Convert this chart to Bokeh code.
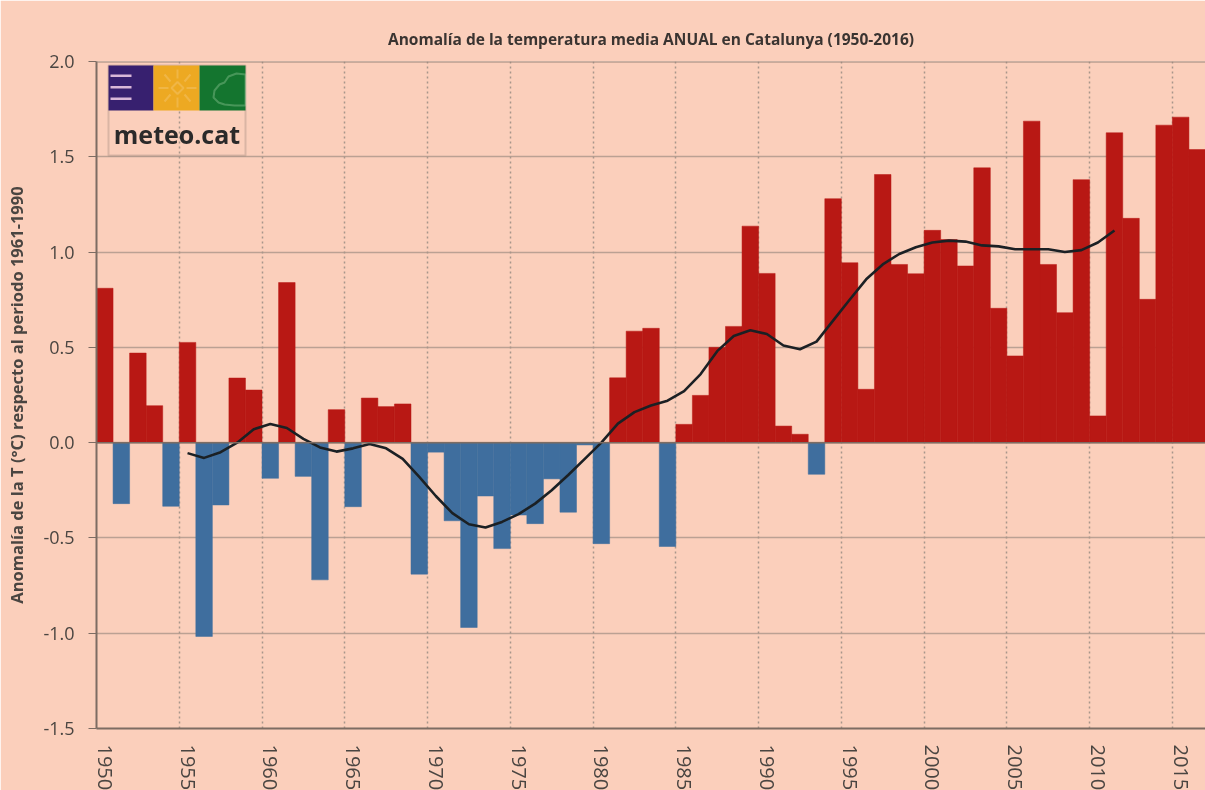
from bokeh.plotting import figure
from bokeh.embed import file_html
from bokeh.resources import INLINE
from bokeh.models import (FixedTicker, Span, BoxAnnotation, Label, PolyAnnotation, Grid, Range1d, Title)

years = list(range(1950, 2017))
anomaly = [0.81,-0.32,0.47,0.194,-0.334,0.526,-1.017,-0.327,0.339,0.276,
           -0.187,0.84,-0.177,-0.72,0.173,-0.336,0.234,0.189,0.203,-0.69,
           -0.05,-0.41,-0.97,-0.28,-0.556,-0.38,-0.425,-0.19,-0.365,-0.012,
           -0.53,0.34,0.585,0.60,-0.545,0.096,0.248,0.50,0.61,1.136,
           0.888,0.087,0.044,-0.166,1.28,0.944,0.28,1.407,0.935,0.886,
           1.114,1.066,0.927,1.442,0.705,0.455,1.687,0.935,0.682,1.38,
           0.14,1.626,1.177,0.752,1.666,1.708,1.538]
trend_years = list(range(1955, 2012))
trend = [-0.055,-0.08,-0.05,0.0,0.07,0.098,0.077,0.02,-0.025,-0.047,
         -0.03,-0.007,-0.03,-0.085,-0.18,-0.28,-0.37,-0.428,-0.445,-0.416,
         -0.375,-0.32,-0.25,-0.17,-0.085,0.0,0.10,0.16,0.195,0.22,
         0.27,0.36,0.48,0.56,0.59,0.57,0.51,0.49,0.53,0.64,
         0.75,0.857,0.935,0.99,1.025,1.05,1.06,1.055,1.035,1.03,
         1.015,1.015,1.015,1.00,1.01,1.05,1.113]
tick_years = list(range(1950, 2016, 5))
y_ticks = [-1.5,-1.0,-0.5,0.0,0.5,1.0,1.5,2.0]
title_text = "Anomalía de la temperatura media ANUAL en Catalunya (1950-2016)"
ylabel_text = "Anomalía de la T (°C) respecto al periodo 1961-1990"

BG = "#fbcfbb"
W, H = 1205, 790
L, B = 96, 728   # frame left and bottom in picture pixels
p = figure(width=W, height=H, frame_width=W - L, frame_height=B - 61,
           output_backend="svg", toolbar_location=None,
           x_range=Range1d(1950, 2017), y_range=Range1d(-1.5, 2.0),
           min_border_left=L, min_border_right=0, min_border_top=61, min_border_bottom=H - B,
           background_fill_color=BG, border_fill_color=BG, outline_line_color=None,
           styles={"position": "fixed", "left": "0", "top": "0"})

p.title = Title(text=title_text, align="center", text_font="Open Sans", text_font_style="bold",
                text_font_size="15.5px", text_color="#3a3431", standoff=24)

TXT = "#4a4541"
p.xaxis.ticker = FixedTicker(ticks=[y + 0.5 for y in tick_years])
p.xaxis.major_label_overrides = {y + 0.5: str(y) for y in tick_years}
p.xaxis.major_label_orientation = "vertical"
p.xaxis.major_tick_line_color = None
p.xaxis.minor_tick_line_color = None
p.xaxis.major_label_standoff = 10
p.xaxis.major_label_text_font = "Open Sans"
p.xaxis.major_label_text_font_size = "20px"
p.xaxis.major_label_text_color = TXT
p.xaxis.axis_line_color = "#7d6c63"
p.xaxis.axis_line_width = 2

p.yaxis.ticker = FixedTicker(ticks=y_ticks)
p.yaxis.major_label_overrides = {v: f"{v:.1f}" for v in y_ticks}
p.yaxis.major_tick_out = 8
p.yaxis.major_tick_in = 0
p.yaxis.minor_tick_line_color = None
p.yaxis.major_tick_line_color = "#7d6c63"
p.yaxis.axis_line_color = "#7d6c63"
p.yaxis.axis_line_width = 2
p.yaxis.major_label_standoff = 14
p.yaxis.major_label_text_font = "Open Sans"
p.yaxis.major_label_text_font_size = "18px"
p.yaxis.major_label_text_color = TXT
p.yaxis.axis_label = ylabel_text
p.yaxis.axis_label_text_font = "Open Sans"
p.yaxis.axis_label_text_font_style = "bold"
p.yaxis.axis_label_text_font_size = "16.5px"
p.yaxis.axis_label_text_color = TXT
p.yaxis.axis_label_standoff = 12

p.xgrid.visible = False
p.ygrid.ticker = FixedTicker(ticks=y_ticks)
p.ygrid.grid_line_color = "#bba193"
p.ygrid.grid_line_width = 1.5
vg = Grid(dimension=0, ticker=FixedTicker(ticks=tick_years),
          grid_line_color="#a8968b", grid_line_dash="2 3", grid_line_width=1.5)
p.add_layout(vg)

pos_x = [y + 0.5 for y, v in zip(years, anomaly) if v >= 0]
pos_v = [v for v in anomaly if v >= 0]
neg_x = [y + 0.5 for y, v in zip(years, anomaly) if v < 0]
neg_v = [v for v in anomaly if v < 0]
p.vbar(x=pos_x, top=pos_v, bottom=0, width=1.0, fill_color="#b81814", line_color="#b81814", line_width=0.5)
p.vbar(x=neg_x, top=0, bottom=neg_v, width=1.0, fill_color="#3f6e9e", line_color="#3f6e9e", line_width=0.5)
p.add_layout(Span(location=0, dimension="width", line_color="#7d6c63", line_width=1.5))
p.add_layout(Span(location=2.0, dimension="width", line_color="#9a857a", line_width=2))
p.line([y + 0.5 for y in trend_years], trend, line_color="#1b2024", line_width=2.6, line_join="round")

def label(px, py, text, **k):
    p.add_layout(Label(x=px - L, y=B - py, x_units="screen", y_units="screen", text=text,
                       text_align="center", text_baseline="middle", text_font="Open Sans",
                       text_font_style="bold", **k))

# logo: decoration placed in pixels
def box(l, r, t, b, **k):
    p.add_layout(BoxAnnotation(left=l - L, right=r - L, top=B - t, bottom=B - b, left_units="screen",
                               right_units="screen", top_units="screen", bottom_units="screen", **k))
def poly(xs, ys, **k):
    p.add_layout(PolyAnnotation(xs=[v - L for v in xs], ys=[B - v for v in ys],
                                xs_units="screen", ys_units="screen", **k))
box(108, 245, 65, 155, fill_alpha=0, line_color="#8f7c72", line_width=2)
box(108, 153, 65, 110, fill_color="#37206f", fill_alpha=1, line_color=None)
box(153, 199, 65, 110, fill_color="#eda922", fill_alpha=1, line_color=None)
box(199, 245, 65, 110, fill_color="#14752f", fill_alpha=1, line_color=None)
for yy in (74, 85.5, 97):
    box(110, 131, yy, yy + 2.5, fill_color="#d9b8d8", fill_alpha=1, line_color=None)
poly([171,177,183,177], [87.5,81.5,87.5,93.5], fill_color="#eda922", fill_alpha=1,
     line_color="#f7d39a", line_width=2)
for x0, y0, x1, y1 in [(177,69,177,78),(177,97,177,107),(158,87.5,168,87.5),(186,87.5,196,87.5),
                       (164,74,170,81),(184,94,190,101),(164,101,170,94),(184,81,190,74)]:
    poly([x0, x1], [y0, y1], fill_alpha=0, line_color="#f7d39a", line_width=2)
poly([245,236,228,224,219,214,213,218,224,234,245],
     [74,73,76,82,84,90,97,102,104,105,105], fill_alpha=0, line_color="#bfe3bd", line_width=2)
label(176.5, 133, "meteo.cat", text_font_size="25px", text_color="#2b2a2a")

open("out.html", "w").write(file_html(p, INLINE))
